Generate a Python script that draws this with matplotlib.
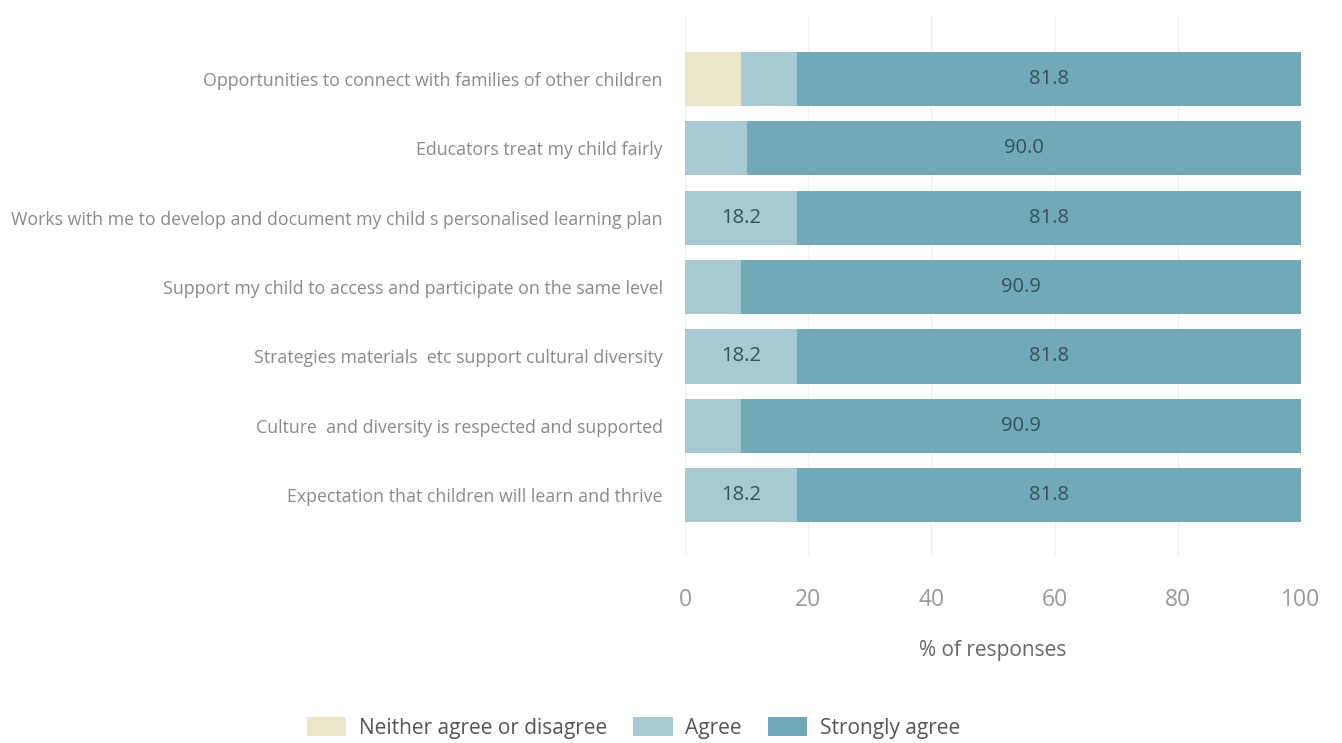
import numpy as np
import matplotlib.pyplot as plt

plt.rcParams['font.family'] = ['Open Sans', 'DejaVu Sans']

categories = [
    "Opportunities to connect with families of other children",
    "Educators treat my child fairly",
    "Works with me to develop and document my child s personalised learning plan",
    "Support my child to access and participate on the same level",
    "Strategies materials  etc support cultural diversity",
    "Culture  and diversity is respected and supported",
    "Expectation that children will learn and thrive",
]
neither = [9.1, 0, 0, 0, 0, 0, 0]
agree = [9.1, 10.0, 18.2, 9.1, 18.2, 9.1, 18.2]
strongly = [81.8, 90.0, 81.8, 90.9, 81.8, 90.9, 81.8]

series = [
    ("Neither agree or disagree", neither, "#ece6c8"),
    ("Agree", agree, "#a6c9d2"),
    ("Strongly agree", strongly, "#71a9b9"),
]

fig = plt.figure(figsize=(13.42, 7.43), dpi=100)
ax = fig.add_axes([0.5104, 0.253, 0.4590, 0.727])

y = np.arange(len(categories))
left = np.zeros(len(categories))
for name, vals, col in series:
    vals = np.array(vals)
    bars = ax.barh(y, vals, left=left, height=0.78, color=col, label=name, zorder=2)
    for b, v in zip(bars, vals):
        if v >= 15:
            ax.text(b.get_x() + b.get_width() / 2, b.get_y() + b.get_height() / 2,
                    f"{v:.1f}", ha='center', va='center', fontsize=14.5, color='#34525c')
    left += vals

ax.set_xlim(0, 100)
ax.set_ylim(len(categories) - 1 + 0.86, -0.92)
ax.set_yticks(y)
ax.set_yticklabels(categories, fontsize=12.8, color='#8a8a8a')
ax.set_xticks([0, 20, 40, 60, 80, 100])
ax.tick_params(axis='x', labelsize=16.5, labelcolor='#999999', length=0, pad=24)
ax.tick_params(axis='y', length=0, pad=16)
ax.set_xlabel("% of responses", fontsize=15, color='#666666', labelpad=20)
ax.grid(axis='x', color='#f0f0f0', linewidth=1, zorder=0)
for s in ax.spines.values():
    s.set_visible(False)

fig.legend(loc='center', bbox_to_anchor=(0.472, 0.02), ncol=3, frameon=False,
           fontsize=15, handlelength=1.9, handleheight=1.0, handletextpad=0.6,
           columnspacing=1.25, labelcolor='#555555')

fig.savefig("out.png", dpi=100)
